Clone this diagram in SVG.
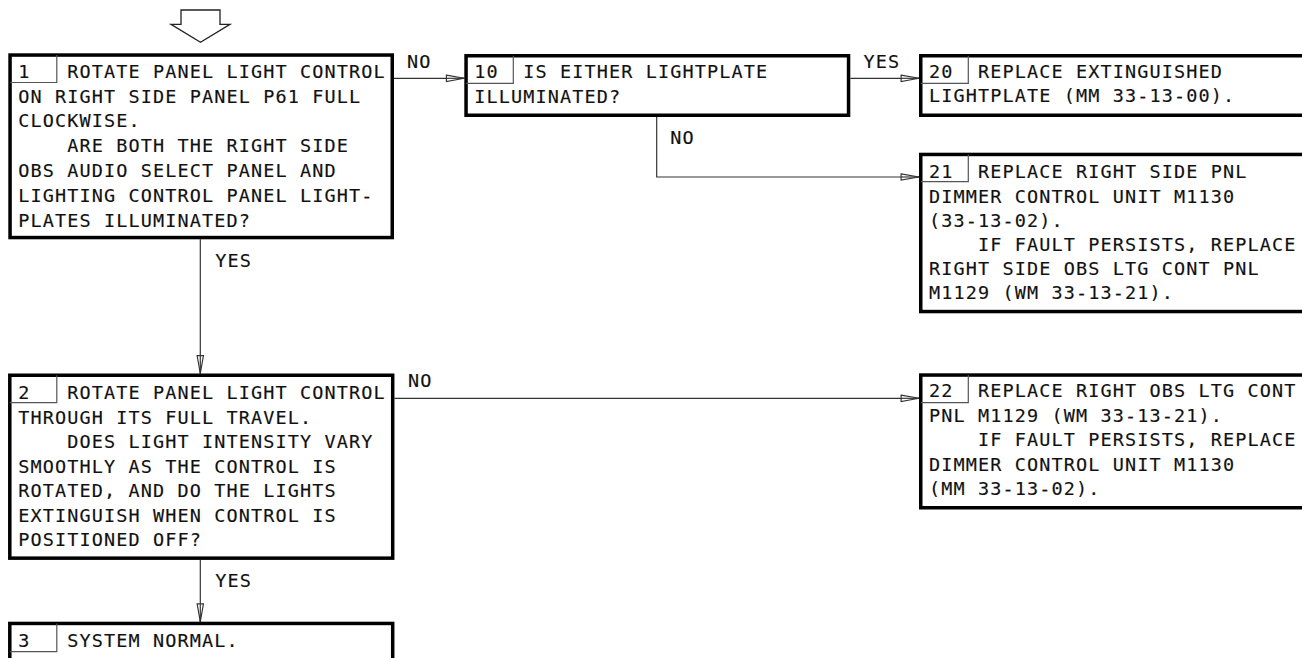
<svg xmlns="http://www.w3.org/2000/svg" width="1302" height="658" viewBox="0 0 1302 658">
<defs>
<style>
.box{fill:#fff;stroke:#000;stroke-width:3.5}
.cell{fill:none;stroke:#555;stroke-width:1.2}
.t{font-family:"DejaVu Sans Mono","Liberation Mono",monospace;font-size:18.5px;letter-spacing:1.11px;fill:#111;stroke:#111;stroke-width:0.15}
.c{fill:none;stroke:#333;stroke-width:1.2}
.entry{fill:#fff;stroke:#222;stroke-width:1.3}
</style>
<marker id="ah" markerUnits="userSpaceOnUse" markerWidth="20" markerHeight="10" viewBox="-18 -4 19 8" refX="0" refY="0" orient="auto">
<path d="M-17,-3 L0,0 L-17,3 Z" fill="#fff" stroke="#333" stroke-width="1.1"/>
<path d="M-17,0 L0,0" stroke="#333" stroke-width="1.1"/>
</marker>
</defs>
<rect width="1302" height="658" fill="#fff"/>

<g id="entry-arrow">
<polygon class="entry" points="181,10 220,10 220,24.3 230,24.3 200.5,42.3 171,24.3 181,24.3"/>
</g>

<g id="connectors">
<line class="c" x1="394" y1="78.3" x2="464.3" y2="78.3" marker-end="url(#ah)"/>
<line class="c" x1="850.3" y1="78.3" x2="919" y2="78.3" marker-end="url(#ah)"/>
<polyline class="c" points="656.7,117 656.7,177 919,177" marker-end="url(#ah)"/>
<line class="c" x1="200.3" y1="239.3" x2="200.3" y2="373.5" marker-end="url(#ah)"/>
<line class="c" x1="200.3" y1="560" x2="200.3" y2="621.7" marker-end="url(#ah)"/>
<line class="c" x1="394.5" y1="398.3" x2="919" y2="398.3" marker-end="url(#ah)"/>
<text class="t" x="407" y="67.7">NO</text>
<text class="t" x="863.5" y="67.7">YES</text>
<text class="t" x="670.3" y="144.3">NO</text>
<text class="t" x="215.3" y="267.3">YES</text>
<text class="t" x="215.3" y="586.7">YES</text>
<text class="t" x="408" y="386.7">NO</text>
</g>

<g id="node-1">
<rect class="box" x="10.05" y="55.05" width="382.2" height="182.5"/>
<polyline class="cell" points="56.8,55 56.8,82.5 10,82.5"/>
<text class="t" x="18.3" y="77.7">1</text>
<text class="t" x="67.3" y="77.7">ROTATE PANEL LIGHT CONTROL</text>
<text class="t" x="18.3" y="102.5">ON RIGHT SIDE PANEL P61 FULL</text>
<text class="t" x="18.3" y="127.3">CLOCKWISE.</text>
<text class="t" x="67.3" y="152.1">ARE BOTH THE RIGHT SIDE</text>
<text class="t" x="18.3" y="176.9">OBS AUDIO SELECT PANEL AND</text>
<text class="t" x="18.3" y="201.7">LIGHTING CONTROL PANEL LIGHT-</text>
<text class="t" x="18.3" y="226.5">PLATES ILLUMINATED?</text>
</g>

<g id="node-10">
<rect class="box" x="466.05" y="55.75" width="382.5" height="59.5"/>
<polyline class="cell" points="513.3,55.75 513.3,83.3 466,83.3"/>
<text class="t" x="474.3" y="78.3">10</text>
<text class="t" x="523.3" y="78.3">IS EITHER LIGHTPLATE</text>
<text class="t" x="474.3" y="103.3">ILLUMINATED?</text>
</g>

<g id="node-20">
<rect class="box" x="920.75" y="55.75" width="400" height="59.5"/>
<polyline class="cell" points="968.3,55.75 968.3,83.3 920.75,83.3"/>
<text class="t" x="929" y="77.5">20</text>
<text class="t" x="978" y="77.5">REPLACE EXTINGUISHED</text>
<text class="t" x="929" y="102.3">LIGHTPLATE (MM 33-13-00).</text>
</g>

<g id="node-21">
<rect class="box" x="920.75" y="154.45" width="400" height="157.1"/>
<polyline class="cell" points="968.3,154.45 968.3,181.7 920.75,181.7"/>
<text class="t" x="929" y="178.3">21</text>
<text class="t" x="978" y="178.3">REPLACE RIGHT SIDE PNL</text>
<text class="t" x="929" y="202.5">DIMMER CONTROL UNIT M1130</text>
<text class="t" x="929" y="226.7">(33-13-02).</text>
<text class="t" x="978" y="250.9">IF FAULT PERSISTS, REPLACE</text>
<text class="t" x="929" y="275.1">RIGHT SIDE OBS LTG CONT PNL</text>
<text class="t" x="929" y="299.3">M1129 (WM 33-13-21).</text>
</g>

<g id="node-22">
<rect class="box" x="920.75" y="375.05" width="400" height="132.7"/>
<polyline class="cell" points="968.3,375.05 968.3,402.7 920.75,402.7"/>
<text class="t" x="929" y="397.3">22</text>
<text class="t" x="978" y="397.3">REPLACE RIGHT OBS LTG CONT</text>
<text class="t" x="929" y="421.7">PNL M1129 (WM 33-13-21).</text>
<text class="t" x="978" y="446.1">IF FAULT PERSISTS, REPLACE</text>
<text class="t" x="929" y="470.5">DIMMER CONTROL UNIT M1130</text>
<text class="t" x="929" y="494.9">(MM 33-13-02).</text>
</g>

<g id="node-2">
<rect class="box" x="9.8" y="375.25" width="382.9" height="182.9"/>
<polyline class="cell" points="56.8,375.25 56.8,402.7 9.8,402.7"/>
<text class="t" x="18.3" y="399">2</text>
<text class="t" x="67.3" y="399">ROTATE PANEL LIGHT CONTROL</text>
<text class="t" x="18.3" y="423.5">THROUGH ITS FULL TRAVEL.</text>
<text class="t" x="67.3" y="448">DOES LIGHT INTENSITY VARY</text>
<text class="t" x="18.3" y="472.5">SMOOTHLY AS THE CONTROL IS</text>
<text class="t" x="18.3" y="497">ROTATED, AND DO THE LIGHTS</text>
<text class="t" x="18.3" y="521.5">EXTINGUISH WHEN CONTROL IS</text>
<text class="t" x="18.3" y="546">POSITIONED OFF?</text>
</g>

<g id="node-3">
<rect class="box" x="9.8" y="623.45" width="382.9" height="60"/>
<polyline class="cell" points="56.8,623.45 56.8,651.7 9.8,651.7"/>
<text class="t" x="18.3" y="647">3</text>
<text class="t" x="67.3" y="647">SYSTEM NORMAL.</text>
</g>
</svg>
